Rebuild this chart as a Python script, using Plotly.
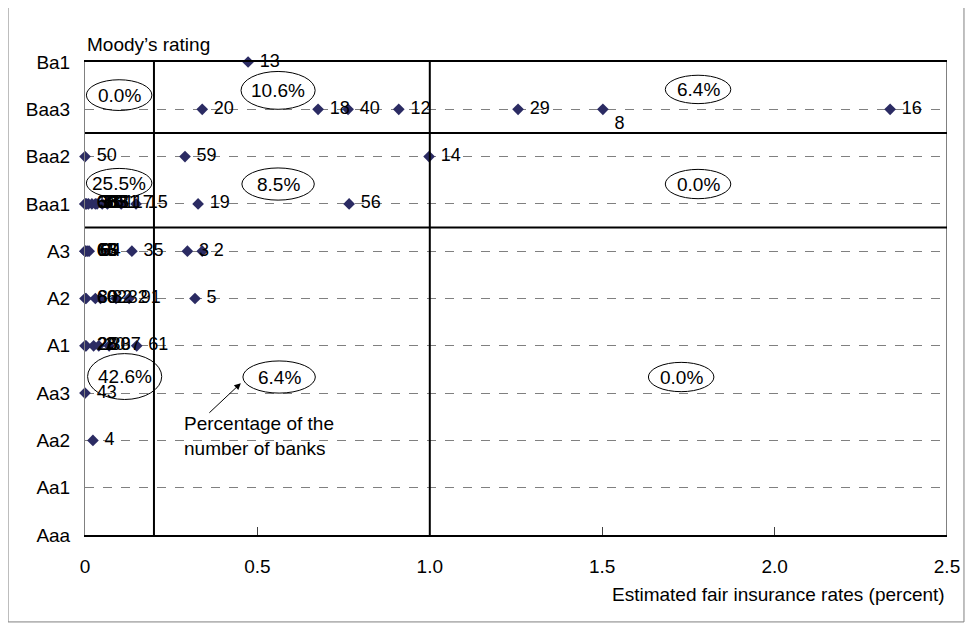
import plotly.graph_objects as go

ratings = ["Aaa", "Aa1", "Aa2", "Aa3", "A1", "A2", "A3", "Baa1", "Baa2", "Baa3", "Ba1"]

# each bank: fair insurance rate (percent), Moody's rating, bank number
rate = [0.473,
        0.34, 0.676, 0.763, 0.91, 1.256, 1.502, 2.335,
        0.0, 0.29, 0.998,
        0.0, 0.0, 0.005, 0.01, 0.02, 0.03, 0.035, 0.05, 0.065, 0.105, 0.148, 0.328, 0.766,
        0.0, 0.0, 0.003, 0.008, 0.012, 0.136, 0.297, 0.34,
        0.0, 0.003, 0.03, 0.045, 0.09, 0.128, 0.319,
        0.0, 0.003, 0.025, 0.04, 0.07, 0.15,
        0.0,
        0.023]
rating = ["Ba1",
          "Baa3", "Baa3", "Baa3", "Baa3", "Baa3", "Baa3", "Baa3",
          "Baa2", "Baa2", "Baa2",
          "Baa1", "Baa1", "Baa1", "Baa1", "Baa1", "Baa1", "Baa1", "Baa1", "Baa1", "Baa1", "Baa1", "Baa1", "Baa1",
          "A3", "A3", "A3", "A3", "A3", "A3", "A3", "A3",
          "A2", "A2", "A2", "A2", "A2", "A2", "A2",
          "A1", "A1", "A1", "A1", "A1", "A1",
          "Aa3",
          "Aa2"]
bank = ["13",
        "20", "18", "40", "12", "29", "8", "16",
        "50", "59", "14",
        "68", "66", "36", "38", "55", "53", "33", "61", "51", "17", "15", "19", "56",
        "65", "63", "66", "69", "64", "35", "3", "2",
        "60", "80", "62", "82", "32", "91", "5",
        "28", "26", "20", "30", "37", "61",
        "43",
        "4"]

# share of banks in each region of the grid
shares = ["0.0%", "10.6%", "6.4%", "25.5%", "8.5%", "0.0%", "42.6%", "6.4%", "0.0%"]
share_x = [0.099, 0.56, 1.778, 0.099, 0.56, 1.778, 0.115, 0.563, 1.729]
share_y = [9.3, 9.4, 9.42, 7.44, 7.42, 7.42, 3.35, 3.34, 3.34]

font = "Liberation Sans, Arial, sans-serif"
y_idx = [ratings.index(r) for r in rating]
pos = ["bottom right" if b == "8" else "middle right" for b in bank]

fig = go.Figure()
fig.add_trace(go.Scatter(x=rate, y=y_idx, mode="markers+text", text=bank,
                         textposition=pos, cliponaxis=False,
                         texttemplate=" %{text}",
                         textfont=dict(family=font, size=18, color="black"),
                         marker=dict(symbol="diamond", size=9, color="#2b2b63"),
                         showlegend=False))

shapes = []
# regional borders
for xv in [0.2, 1.0]:
    shapes.append(dict(type="line", xref="x", yref="y", x0=xv, x1=xv, y0=0, y1=10,
                       line=dict(color="black", width=2)))
for yv in [8.5, 6.5]:
    shapes.append(dict(type="line", xref="x", yref="y", x0=0, x1=2.5, y0=yv, y1=yv,
                       line=dict(color="black", width=2)))
shapes.append(dict(type="line", xref="x", yref="y", x0=2.5, x1=2.5, y0=0, y1=10,
                   line=dict(color="black", width=1)))
# outer frame
shapes.append(dict(type="rect", xref="paper", yref="paper", x0=-0.0893, x1=1.0197,
                   y0=-0.1838, y1=1.1205, line=dict(color="#808080", width=1)))

annotations = []
ew = [0.19, 0.215, 0.19, 0.19, 0.21, 0.19, 0.215, 0.21, 0.19]
eh = [0.65, 0.8, 0.6, 0.62, 0.68, 0.62, 0.97, 0.68, 0.62]
for s, xv, yv, w, h in zip(shares, share_x, share_y, ew, eh):
    shapes.append(dict(type="circle", xref="x", yref="y", x0=xv - w / 2, x1=xv + w / 2,
                       y0=yv - h / 2, y1=yv + h / 2, line=dict(color="black", width=1)))
    annotations.append(dict(x=xv, y=yv, xref="x", yref="y", text=s, showarrow=False,
                            font=dict(family=font, size=19, color="black")))

annotations.append(dict(x=0.452, y=3.21, xref="x", yref="y", text="", showarrow=True,
                        ax=-33, ay=31, arrowhead=2, arrowsize=1.3, arrowwidth=1,
                        arrowcolor="black"))
annotations.append(dict(x=0.281, y=2.1, xref="x", yref="y", xanchor="left", yanchor="middle",
                        align="left", showarrow=False,
                        text="Percentage of the<br>number of banks",
                        font=dict(family=font, size=19, color="black")))
annotations.append(dict(x=0, y=1.036, xref="x", yref="paper", xanchor="left", yanchor="middle",
                        showarrow=False, text="Moody’s rating",
                        font=dict(family=font, size=19, color="black")))
annotations.append(dict(x=2.5, y=-0.125, xref="x", yref="paper", xanchor="right",
                        yanchor="middle", showarrow=False,
                        text="Estimated fair insurance rates (percent)",
                        font=dict(family=font, size=19, color="black")))

fig.update_layout(
    width=976, height=630,
    margin=dict(l=77, r=37, t=54, b=103),
    paper_bgcolor="white", plot_bgcolor="white",
    font=dict(family=font, size=19, color="black"),
    shapes=shapes, annotations=annotations,
    xaxis=dict(range=[0, 2.5], tickvals=[0, 0.5, 1.0, 1.5, 2.0, 2.5],
               ticktext=["0", "0.5", "1.0", "1.5", "2.0", "2.5"],
               showgrid=False, zeroline=False, showline=True, linecolor="black",
               linewidth=1.5, mirror=True, ticks="inside", ticklen=8,
               tickcolor="#404040", ticklabelstandoff=13),
    yaxis=dict(range=[0, 10], tickvals=list(range(len(ratings))), ticktext=ratings,
               showgrid=True, griddash="dash", gridcolor="#808080", gridwidth=1,
               zeroline=False, showline=True, linecolor="#808080", linewidth=1,
               ticks="", ticklabelstandoff=10),
)

fig.write_html("out.html")
